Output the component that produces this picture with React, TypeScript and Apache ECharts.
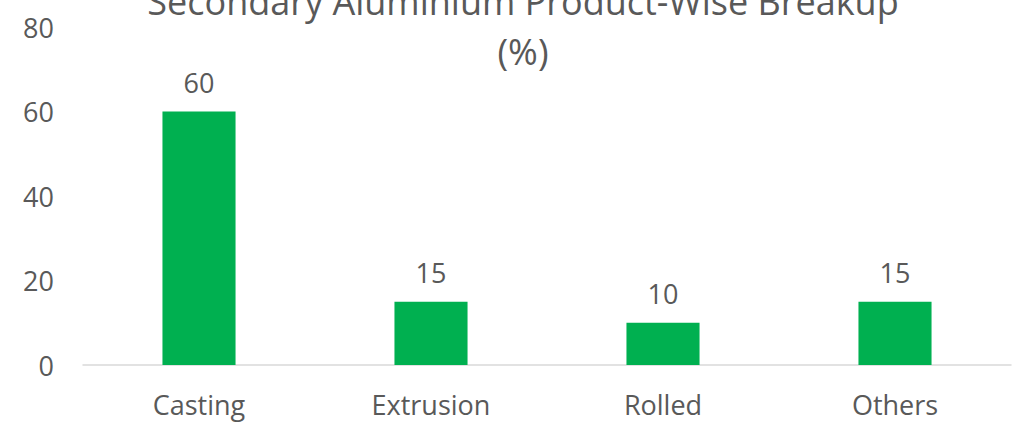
import React, { useEffect, useRef } from "react";
import * as echarts from "echarts";

const categories = ["Casting", "Extrusion", "Rolled", "Others"];
const values = [60, 15, 10, 15];
const yTicks = [0, 20, 40, 60, 80];

const FONT = "'Open Sans', sans-serif";
const TXT = "#595959";

export default function App() {
  const ref = useRef<HTMLDivElement>(null);
  useEffect(() => {
    if (!ref.current) return;
    const chart = echarts.init(ref.current, undefined, { renderer: "svg" });
    chart.setOption({
      animation: false,
      backgroundColor: "#ffffff",
      title: {
        text: "Secondary Aluminium Product-Wise Breakup\n(%)",
        left: 523,
        textAlign: "center",
        top: -24,
        padding: 0,
        textStyle: {
          fontFamily: FONT,
          fontSize: 36,
          fontWeight: "normal",
          color: TXT,
          lineHeight: 50,
        },
      },
      grid: { left: 83, right: 1, top: 27, bottom: 57, containLabel: false },
      xAxis: {
        type: "category",
        data: categories,
        axisLine: { show: true, lineStyle: { color: "#d9d9d9", width: 1.5 } },
        axisTick: { show: false },
        axisLabel: {
          fontFamily: FONT,
          fontSize: 27,
          color: TXT,
          margin: 26,
        },
      },
      yAxis: {
        type: "value",
        min: yTicks[0],
        max: yTicks[yTicks.length - 1],
        interval: 20,
        splitLine: { show: false },
        axisLine: { show: false },
        axisTick: { show: false },
        axisLabel: {
          fontFamily: FONT,
          fontSize: 27,
          color: TXT,
          margin: 29,
        },
      },
      series: [
        {
          type: "bar",
          data: values,
          barWidth: "31.5%",
          itemStyle: { color: "#00b050" },
          label: {
            show: true,
            position: "top",
            distance: 16,
            fontFamily: FONT,
            fontSize: 27,
            color: TXT,
          },
        },
      ],
    });
    return () => chart.dispose();
  }, []);
  return (
    <div
      ref={ref}
      style={{ position: "fixed", left: 0, top: 0, width: 1012, height: 422 }}
    />
  );
}
